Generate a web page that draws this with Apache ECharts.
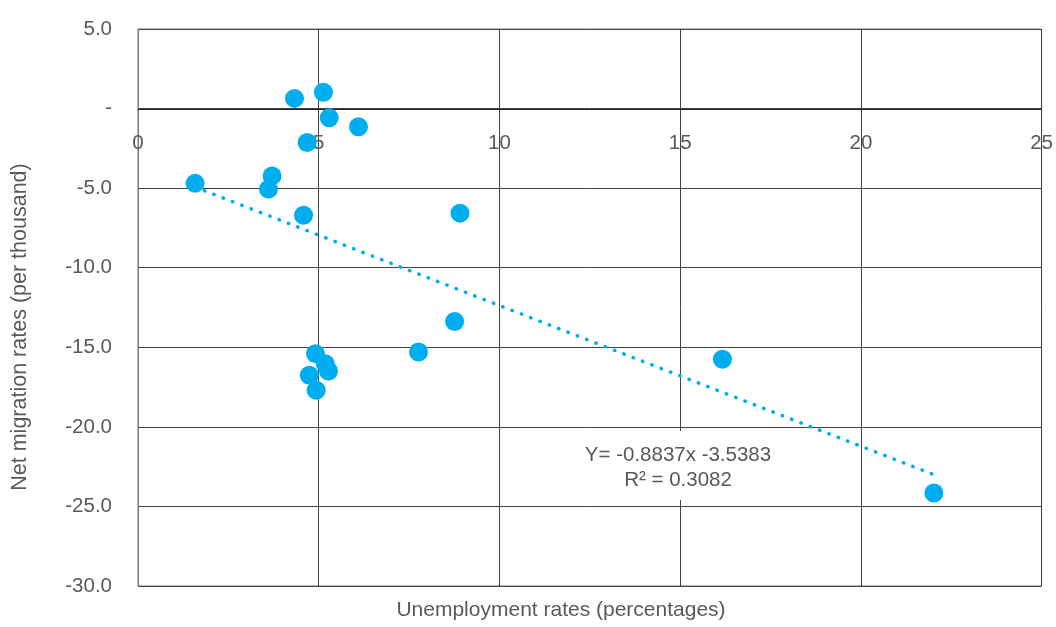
<!DOCTYPE html>
<html>
<head>
<meta charset="utf-8">
<script src="https://cdn.jsdelivr.net/npm/echarts@6/dist/echarts.min.js"></script>
<style>
html, body { margin: 0; padding: 0; background: #fff; }
#migration-chart { width: 1056px; height: 627px; }
</style>
</head>
<body>
<div id="migration-chart"></div>
<script>
// unemployment rate (%) and net migration rate (per thousand), one pair per country
var unemployment = [1.58, 4.33, 5.13, 5.29, 6.10, 4.68, 3.71, 3.61, 4.58, 8.91,
                    8.76, 7.76, 4.91, 5.18, 5.27, 4.74, 4.93, 16.17, 22.02];
var netMigration = [-4.70, 0.64, 1.02, -0.58, -1.14, -2.13, -4.23, -5.06, -6.70, -6.57,
                    -13.38, -15.30, -15.40, -16.03, -16.49, -16.76, -17.70, -15.75, -24.16];
// linear trend line end points (Y= -0.8837x -3.5383)
var trendX = [1.58, 22.02];
var trendY = [-4.93, -23.00];
var trendText = ['Y= -0.8837x -3.5383', 'R\u00b2 = 0.3082'];

var points = unemployment.map(function (x, i) { return [x, netMigration[i]]; });
var trend = trendX.map(function (x, i) { return [x, trendY[i]]; });

var blue = '#00AEEF';
var textColor = '#595959';
var font = '"Liberation Sans", Arial, sans-serif';

var myChart = echarts.init(document.getElementById('migration-chart'));
var option = {
    animation: false,
    textStyle: { fontFamily: font },
    grid: {
        left: 138, right: 11, top: 29, bottom: 41,
        show: true,
        borderColor: '#777',
        borderWidth: 1
    },
    xAxis: {
        type: 'value',
        min: 0, max: 25, interval: 5,
        // labels sit just under the zero line, as in the original
        offset: -477,
        axisLine: { show: true, onZero: false, lineStyle: { color: '#222', width: 1 } },
        axisTick: { show: false },
        axisLabel: { color: textColor, fontSize: 20.5, margin: 24, fontFamily: font },
        splitLine: { show: true, lineStyle: { color: '#444', width: 1 } }
    },
    yAxis: {
        type: 'value',
        min: -30, max: 5, interval: 5,
        axisLine: { show: true, lineStyle: { color: '#777' } },
        axisTick: { show: false },
        axisLabel: {
            color: textColor, fontSize: 20.5, margin: 26, fontFamily: font,
            formatter: function (v) { return v === 0 ? '-' : v.toFixed(1); }
        },
        splitLine: { show: true, lineStyle: { color: '#444', width: 1 } }
    },
    graphic: [
        {
            type: 'text',
            x: 20, y: 327,
            rotation: Math.PI / 2,
            style: {
                text: 'Net migration rates (per thousand)',
                fill: textColor,
                font: '21.5px ' + font,
                align: 'center',
                verticalAlign: 'middle'
            }
        },
        {
            type: 'text',
            x: 561, y: 600,
            style: {
                text: 'Unemployment rates (percentages)',
                fill: textColor,
                font: '21px ' + font,
                align: 'center'
            }
        },
        {
            type: 'rect',
            shape: { x: 590, y: 431, width: 176, height: 69 },
            z: 9,
            style: { fill: '#fff' }
        },
        {
            type: 'text',
            x: 678, y: 443,
            z: 10,
            style: {
                text: trendText.join('\n'),
                fill: textColor,
                font: '20.5px ' + font,
                align: 'center',
                lineHeight: 25
            }
        }
    ],
    series: [
        {
            name: 'Trend',
            type: 'line',
            data: trend,
            symbol: 'none',
            z: 2,
            lineStyle: { color: blue, width: 3.5, type: [0.5, 9.5], cap: 'round' }
        },
        {
            name: 'Countries',
            type: 'scatter',
            data: points,
            symbolSize: 19,
            z: 3,
            itemStyle: { color: blue, opacity: 1 }
        }
    ]
};
myChart.setOption(option);
</script>
</body>
</html>
